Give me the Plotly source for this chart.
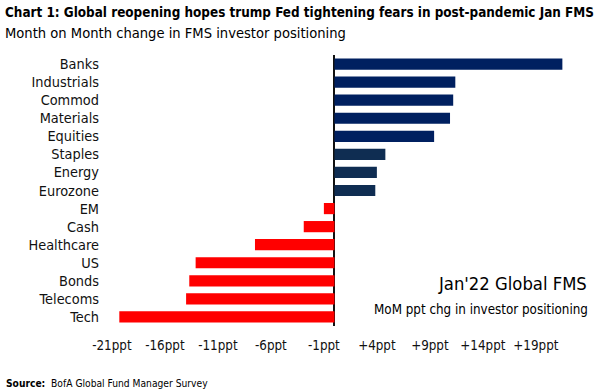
import plotly.graph_objects as go

categories = ["Banks", "Industrials", "Commod", "Materials", "Equities", "Staples",
              "Energy", "Eurozone", "EM", "Cash", "Healthcare", "US", "Bonds",
              "Telecoms", "Tech"]
values = [21.5, 11.4, 11.2, 10.9, 9.4, 4.8, 4.0, 3.85, -1.0, -2.9, -7.5, -13.1,
          -13.7, -14.0, -20.3]
tick_vals = [-21, -16, -11, -6, -1, 4, 9, 14, 19]
tick_text = ["-21ppt", "-16ppt", "-11ppt", "-6ppt", "-1ppt", "+4ppt", "+9ppt",
             "+14ppt", "+19ppt"]

NAVY = "#002060"
DARK = "#0f2d52"
RED = "#ff0000"
colors = []
for i, v in enumerate(values):
    if v < 0:
        colors.append(RED)
    elif i < 5:
        colors.append(NAVY)
    else:
        colors.append(DARK)

W, H = 615, 392
L, R, T, B = 105, 15, 55, 66
PW, PH = W - L - R, H - T - B

FONT = "DejaVu Sans Condensed, Liberation Sans Narrow, sans-serif"


def px(x):
    return (x - L) / PW


def py(y):
    return 1 - (y - T) / PH


fig = go.Figure()
fig.add_trace(go.Bar(
    x=values, y=categories, orientation="h",
    marker=dict(color=colors, line=dict(width=0)),
    showlegend=False,
))

fig.update_layout(
    width=W, height=H,
    margin=dict(l=L, r=R, t=T, b=B),
    paper_bgcolor="white", plot_bgcolor="white",
    bargap=0.38,
    font=dict(family=FONT, color="#111111"),
    xaxis=dict(
        range=[-21.65, 25.05], tickvals=tick_vals, ticktext=tick_text,
        showgrid=False, zeroline=True, zerolinecolor="#111111", zerolinewidth=1.5,
        showline=False, ticks="", ticklabelstandoff=10,
        tickfont=dict(size=13.3, family=FONT, color="#111111"),
    ),
    yaxis=dict(
        type="category", categoryorder="array", categoryarray=categories,
        tickmode="array", tickvals=categories, ticktext=categories,
        autorange="reversed", showgrid=False, zeroline=False, showline=False,
        ticks="", ticklabelstandoff=5,
        tickfont=dict(size=14.4, family=FONT, color="#111111"),
    ),
    annotations=[
        dict(text="<b>Chart 1: Global reopening hopes trump Fed tightening fears in post-pandemic Jan FMS</b>",
             xref="paper", yref="paper", x=px(3), y=py(13), xanchor="left", yanchor="middle",
             showarrow=False, font=dict(size=13.4, family=FONT, color="#000000")),
        dict(text="Month on Month change in FMS investor positioning",
             xref="paper", yref="paper", x=px(3), y=py(32), xanchor="left", yanchor="middle",
             showarrow=False, font=dict(size=14.6, family=FONT, color="#000000")),
        dict(text="Jan'22 Global FMS",
             xref="paper", yref="paper", x=px(589), y=py(283), xanchor="right", yanchor="middle",
             showarrow=False, font=dict(size=18.3, family=FONT, color="#000000")),
        dict(text="MoM ppt chg in investor positioning",
             xref="paper", yref="paper", x=px(590), y=py(309), xanchor="right", yanchor="middle",
             showarrow=False, font=dict(size=13.3, family=FONT, color="#000000")),
        dict(text="<b>Source:</b>  BofA Global Fund Manager Survey",
             xref="paper", yref="paper", x=px(4), y=py(383), xanchor="left", yanchor="middle",
             showarrow=False, font=dict(size=10.2, family=FONT, color="#000000")),
    ],
)

fig.write_html("out.html", config={"displayModeBar": False},
               post_script="document.body.style.margin='0px';")
